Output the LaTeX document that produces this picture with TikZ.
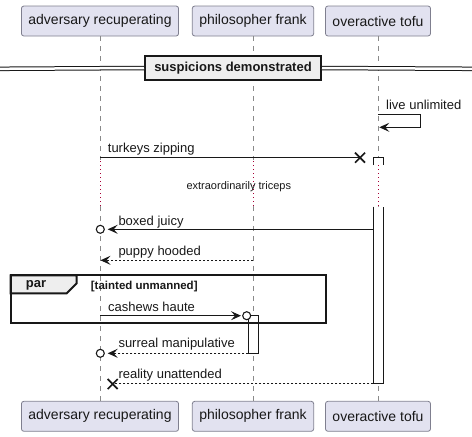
\documentclass[tikz,border=0pt]{standalone}
\usepackage{fontspec}
\setmainfont{Liberation Sans}
\usetikzlibrary{arrows.meta,positioning,calc}
\definecolor{ink}{HTML}{181818}
\definecolor{partfill}{HTML}{E2E2F0}
\definecolor{partline}{HTML}{7F7F8F}
\definecolor{lifegray}{HTML}{8A8A8A}
\definecolor{delayred}{HTML}{A80036}
\definecolor{framefill}{HTML}{EEEEEE}
\tikzset{
  >={Stealth[length=10pt,width=9pt,inset=4pt]},
  every node/.style={text=ink},
  participant/.style={
    draw=partline,
    fill=partfill,
    rounded corners=2.5pt,
    line width=0.8pt,
    minimum height=30pt,
    inner xsep=7pt,
    font=\fontsize{14}{16}\selectfont
  },
  lifeline/.style={draw=lifegray, line width=0.7pt, dash pattern=on 5pt off 5pt},
  delayline/.style={draw=delayred, line width=1pt, dash pattern=on 1pt off 3pt},
  msg/.style={draw=ink, line width=1pt},
  reply/.style={msg, dash pattern=on 2pt off 2pt},
  msglabel/.style={anchor=base west, inner sep=0pt, font=\fontsize{13}{15}\selectfont},
  activation/.style={draw=ink, fill=white, line width=1pt},
  ocirc/.style={circle, draw=ink, fill=white, line width=1.1pt, minimum size=8pt, inner sep=0pt},
  xmark/.pic={\draw[ink, line width=1.7pt] (-5,-5) -- (5,5) (-5,5) -- (5,-5);},
  framebox/.style={draw=ink, line width=2pt},
  framefont/.style={font=\bfseries\fontsize{13}{15}\selectfont, inner sep=0pt}
}

\begin{document}
\begin{tikzpicture}[x=1pt, y=-1pt]
  \useasboundingbox (0,0) rectangle (472,437);

  % Participants, top and bottom
  \node[participant] (pA) at (100,21) {adversary recuperating};
  \node[participant] (pF) at (253,21) {philosopher frank};
  \node[participant] (pT) at (378,21) {overactive tofu};
  \node[participant] (pAb) at (100,416.3) {adversary recuperating};
  \node[participant] (pFb) at (253,416.3) {philosopher frank};
  \node[participant] (pTb) at (378,416.3) {overactive tofu};

  % Lifelines
  \draw[lifeline] (pA.south) -- (pAb.north);
  \draw[lifeline] (pF.south) -- (pFb.north);
  \draw[lifeline] (pT.south) -- (pTb.north);

  % Delay
  \coordinate (dA1) at (100,161);
  \coordinate (dA2) at (100,206);
  \coordinate (dF1) at (253,161);
  \coordinate (dF2) at (253,206);
  \coordinate (dT1) at (378,161);
  \coordinate (dT2) at (378,206);
  \fill[white] (96,160) rectangle (104,206) (249,160) rectangle (257,206) (374,160) rectangle (382,206);
  \draw[delayline] (dA1) -- (dA2);
  \draw[delayline] (dF1) -- (dF2);
  \draw[delayline] (dT1) -- (dT2);
  \node[font=\fontsize{11}{13}\selectfont] (delay) at (238.8,187) {extraordinarily triceps};

  % Divider
  \node[framefont, draw=ink, fill=framefill, line width=2pt, minimum width=176pt, minimum height=24pt] (sect) at (233,68) {suspicions demonstrated};
  \coordinate (divL) at (0,68.8);
  \coordinate (divR) at (472,68.8);
  \draw[ink, line width=1pt, double=white, double distance=2.5pt] (divL) -- (sect.west);
  \draw[ink, line width=1pt, double=white, double distance=2.5pt] (sect.east) -- (divR);

  % Activations
  \draw[activation] (373.3,165) -- (373.3,157.7) -- (383.3,157.7) -- (383.3,165);
  \filldraw[activation] (373.3,206.5) -- (373.3,383) -- (383.3,383) -- (383.3,206.5);
  \draw[activation] (248.3,315.7) rectangle (258.3,353.3);

  % live unlimited
  \coordinate (s1) at (378,114.3);
  \coordinate (s2) at (420.7,114.3);
  \coordinate (s3) at (420.7,127.3);
  \coordinate (s4) at (379.3,127.3);
  \draw[msg, ->] (s1) -- (s2) -- (s3) -- (s4);
  \node[msglabel] (l1) at (386,109) {live unlimited};

  % turkeys zipping
  \coordinate (m1a) at (100,157.7);
  \coordinate (m1b) at (360,157.7);
  \draw[msg] (m1a) -- (m1b);
  \pic (x1) at (m1b) {xmark};
  \node[msglabel] (l2) at (107.7,152.5) {turkeys zipping};

  % boxed juicy
  \coordinate (m2a) at (373.3,229.3);
  \coordinate (m2b) at (107.7,229.3);
  \draw[msg, ->] (m2a) -- (m2b);
  \node[ocirc] (c2) at (100.3,229.3) {};
  \node[msglabel] (l3) at (118.3,225) {boxed juicy};

  % puppy hooded
  \coordinate (m3a) at (253,260.3);
  \coordinate (m3b) at (100.5,260.3);
  \draw[reply, ->] (m3a) -- (m3b);
  \node[msglabel] (l4) at (118.3,255.5) {puppy hooded};

  % par frame
  \coordinate (fTL) at (10.7,275.3);
  \coordinate (fBR) at (325.7,323.3);
  \filldraw[framebox, fill=framefill] (fTL) -- (76.7,275.3) -- (76.7,283.3) -- (66.7,293.3) -- (10.7,293.3) -- cycle;
  \draw[framebox] (fTL) rectangle (fBR);
  \node[framefont] (par) at (36,285) {par};
  \node[framefont, font=\bfseries\fontsize{11.5}{13}\selectfont, anchor=base west] (guard) at (90.7,289) {[tainted unmanned]};

  % cashews haute
  \coordinate (m4a) at (100,315.7);
  \coordinate (m4b) at (241,315.7);
  \draw[msg, ->] (m4a) -- (m4b);
  \node[ocirc] (c4) at (246.7,315.7) {};
  \node[msglabel] (l5) at (108,311) {cashews haute};

  % surreal manipulative
  \coordinate (m5a) at (248.3,353.3);
  \coordinate (m5b) at (107.7,353.3);
  \draw[reply, ->] (m5a) -- (m5b);
  \node[ocirc] (c5) at (100.3,353.3) {};
  \node[msglabel] (l6) at (118.3,347.7) {surreal manipulative};

  % reality unattended
  \coordinate (m6a) at (373.3,383);
  \coordinate (m6b) at (112.7,383);
  \draw[reply] (m6a) -- (m6b);
  \pic (x6) at (112.7,384) {xmark};
  \node[msglabel] (l7) at (118.3,378) {reality unattended};
\end{tikzpicture}
\end{document}
